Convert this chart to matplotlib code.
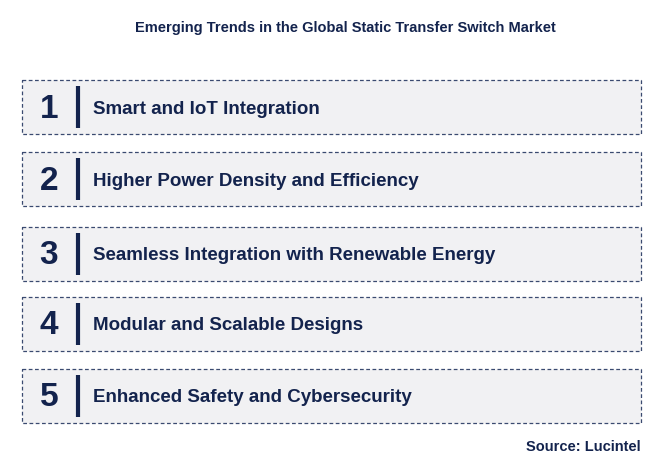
import matplotlib.pyplot as plt
from matplotlib.patches import Rectangle

title = "Emerging Trends in the Global Static Transfer Switch Market"
numbers = ["1", "2", "3", "4", "5"]
trends = [
    "Smart and IoT Integration",
    "Higher Power Density and Efficiency",
    "Seamless Integration with Renewable Energy",
    "Modular and Scalable Designs",
    "Enhanced Safety and Cybersecurity",
]
source = "Source: Lucintel"

navy = "#13234d"
box_tops = [80, 152, 227, 297, 369]
box_h = 54

fig = plt.figure(figsize=(6.63, 4.59), dpi=100)
ax = fig.add_axes([0, 0, 1, 1])
ax.set_xlim(0, 663)
ax.set_ylim(459, 0)
ax.axis("off")

ax.text(345, 28, title, ha="center", va="center", fontsize=10.5,
        fontweight="bold", color=navy, family="Liberation Sans")

for num, label, top in zip(numbers, trends, box_tops):
    ax.add_patch(Rectangle((22, top), 619, box_h, facecolor="#f1f1f3",
                           edgecolor="#3a4a70", linestyle=(0, (3, 2)), linewidth=0.9))
    cy = top + box_h / 2
    ax.text(49, cy + 2, num, ha="center", va="center", fontsize=24,
            fontweight="bold", color=navy, family="Liberation Sans")
    ax.plot([78, 78], [top + 6, top + box_h - 6], color=navy, linewidth=3,
            solid_capstyle="butt")
    ax.text(93, cy + 2, label, ha="left", va="center", fontsize=13.5,
            fontweight="bold", color=navy, family="Liberation Sans")

ax.text(641, 447, source, ha="right", va="center", fontsize=10.5,
        fontweight="bold", color=navy, family="Liberation Sans")

fig.savefig("out.png", dpi=100)
